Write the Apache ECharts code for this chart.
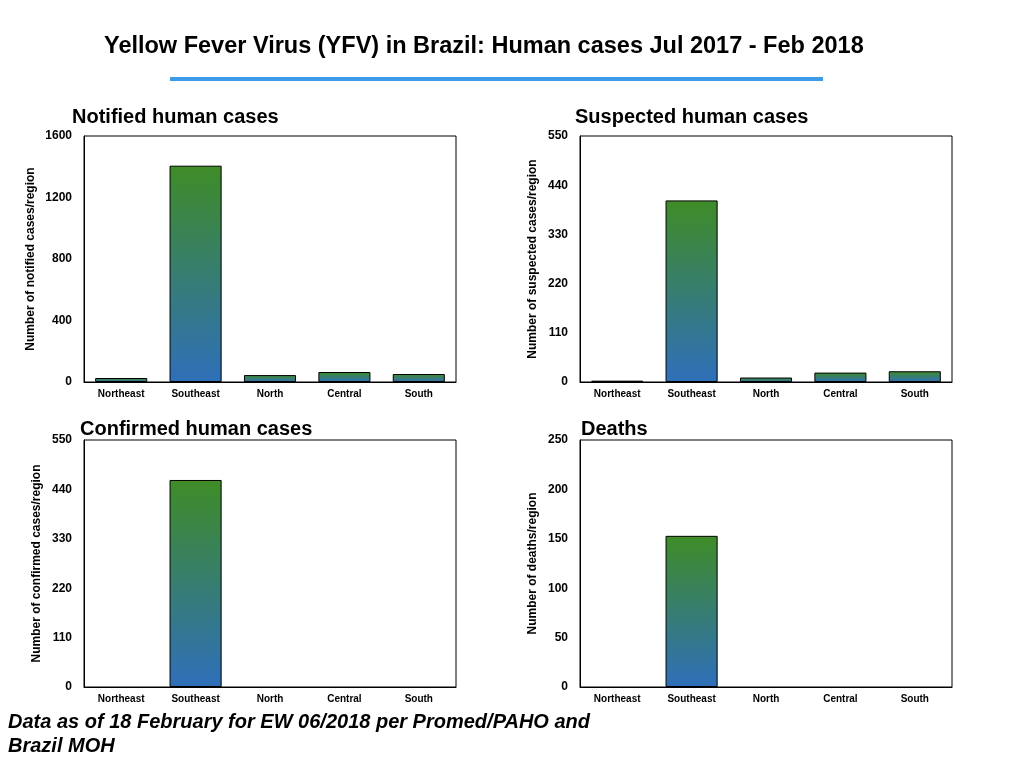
<!DOCTYPE html>
<html>
<head>
<meta charset="utf-8">
<script src="https://cdn.jsdelivr.net/npm/echarts@6/dist/echarts.min.js"></script>
<style>
html,body{margin:0;padding:0;background:#fff;}
#chart{width:1024px;height:768px;}
</style>
</head>
<body>
<div id="chart"></div>
<script>
var categories = ['Northeast', 'Southeast', 'North', 'Central', 'South'];
var notifiedCases = [26, 1407, 45, 65, 52];
var suspectedCases = [3, 406, 10, 21, 24];
var confirmedCases = [0, 461, 0, 0, 0];
var deaths = [0, 153, 0, 0, 0];
var notifiedTicks = [0, 1600, 400];
var suspectedTicks = [0, 550, 110];
var confirmedTicks = [0, 550, 110];
var deathTicks = [0, 250, 50];

var FONT = 'Liberation Sans, Arial, sans-serif';
var chart = echarts.init(document.getElementById('chart'));

var panels = [
  {title: 'Notified human cases', yName: 'Number of notified cases/region', data: notifiedCases, ticks: notifiedTicks, grid: {left: 84, top: 136, width: 372, height: 246}, titlePos: {left: 72, top: 107}, nameGap: 47},
  {title: 'Suspected human cases', yName: 'Number of suspected cases/region', data: suspectedCases, ticks: suspectedTicks, grid: {left: 580, top: 136, width: 372, height: 246}, titlePos: {left: 575, top: 107}, nameGap: 41},
  {title: 'Confirmed human cases', yName: 'Number of confirmed cases/region', data: confirmedCases, ticks: confirmedTicks, grid: {left: 84, top: 440, width: 372, height: 247}, titlePos: {left: 80, top: 419}, nameGap: 41},
  {title: 'Deaths', yName: 'Number of deaths/region', data: deaths, ticks: deathTicks, grid: {left: 580, top: 440, width: 372, height: 247}, titlePos: {left: 581, top: 419}, nameGap: 41}
];

var titles = [{
  text: 'Yellow Fever Virus (YFV) in Brazil: Human cases Jul 2017 - Feb 2018',
  left: 104, top: 35, padding: 0,
  textStyle: {fontFamily: FONT, fontSize: 23.5, fontWeight: 'bold', color: '#000'}
}];
var grids = [], xAxes = [], yAxes = [], series = [];
panels.forEach(function (p, i) {
  titles.push({
    text: p.title, left: p.titlePos.left, top: p.titlePos.top, padding: 0,
    textStyle: {fontFamily: FONT, fontSize: 20, fontWeight: 'bold', color: '#000'}
  });
  grids.push(Object.assign({show: true, borderColor: '#000', borderWidth: 1, backgroundColor: '#fff'}, p.grid));
  xAxes.push({
    type: 'category', gridIndex: i, data: categories,
    axisLine: {lineStyle: {color: '#000', width: 1}},
    axisTick: {show: false},
    axisLabel: {fontFamily: FONT, fontSize: 10, fontWeight: 'bold', color: '#000', margin: 7, interval: 0}
  });
  yAxes.push({
    type: 'value', gridIndex: i, min: p.ticks[0], max: p.ticks[1], interval: p.ticks[2],
    name: p.yName, nameLocation: 'middle', nameRotate: 90, nameGap: p.nameGap,
    nameTextStyle: {fontFamily: FONT, fontSize: 12, fontWeight: 'bold', color: '#000'},
    axisLine: {show: true, lineStyle: {color: '#000', width: 1}},
    axisTick: {show: false},
    splitLine: {show: false},
    axisLabel: {fontFamily: FONT, fontSize: 12, fontWeight: 'bold', color: '#000', margin: 12,
      formatter: function (v) { return String(v); }}
  });
  series.push({
    type: 'bar', xAxisIndex: i, yAxisIndex: i,
    data: p.data.map(function (v) { return v === 0 ? '-' : v; }),
    barWidth: '70%',
    itemStyle: {
      borderColor: '#000', borderWidth: 1,
      color: new echarts.graphic.LinearGradient(0, 0, 0, 1, [
        {offset: 0, color: '#3f8c27'},
        {offset: 1, color: '#2f6fba'}
      ])
    }
  });
});

chart.setOption({
  animation: false,
  title: titles,
  grid: grids,
  xAxis: xAxes,
  yAxis: yAxes,
  series: series,
  graphic: [
    {type: 'rect', shape: {x: 170, y: 77, width: 653, height: 4}, style: {fill: '#3d9bea'}},
    {type: 'text', left: 8, top: 710, style: {
      text: 'Data as of 18 February for EW 06/2018 per Promed/PAHO and\nBrazil MOH',
      font: 'italic bold 20px ' + FONT, fill: '#000', lineHeight: 24
    }}
  ]
});
</script>
</body>
</html>
